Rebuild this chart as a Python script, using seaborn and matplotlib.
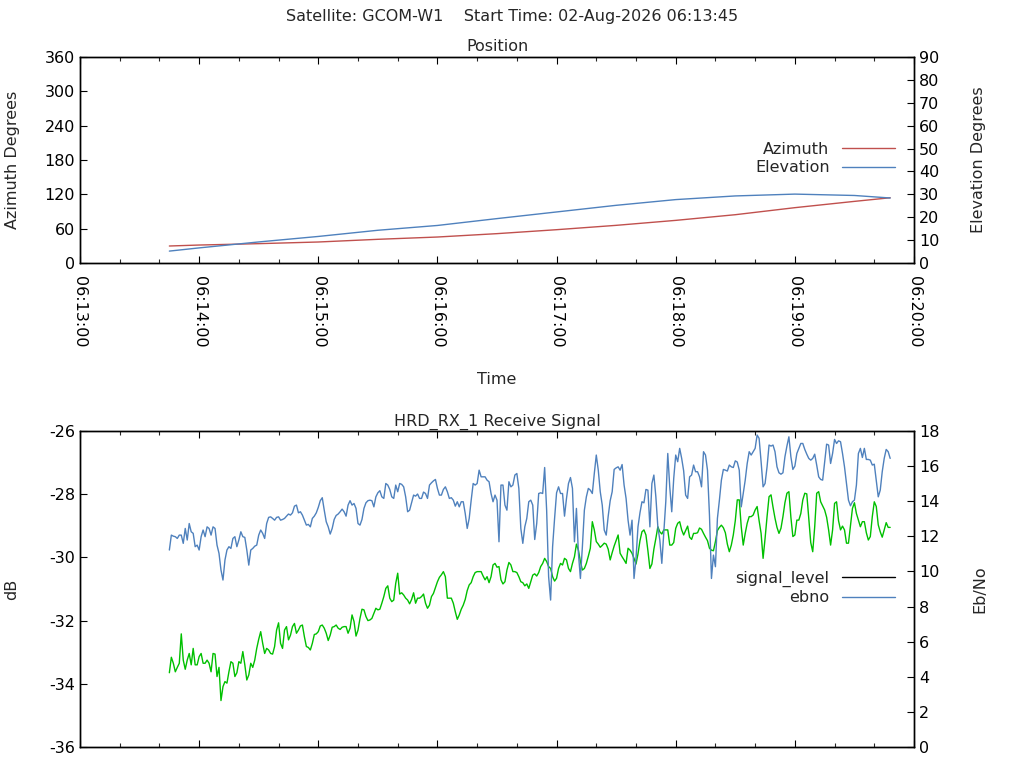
import numpy as np
import pandas as pd
import matplotlib
matplotlib.use("Agg")
import matplotlib.pyplot as plt
import seaborn as sns
from matplotlib.lines import Line2D
from matplotlib.ticker import MultipleLocator, FuncFormatter

# position samples, seconds after 06:13:00
pos_time = [45, 60, 90, 120, 150, 180, 210, 240, 270, 300, 330, 360, 390, 408]
azimuth = [29.7, 31.4, 33.8, 36.7, 41.4, 45.4, 51.3, 58.2, 65.8, 74.5, 84.4, 96.7, 107.7, 114.0]
elevation = [5.2, 6.6, 9.2, 11.6, 14.3, 16.4, 19.4, 22.3, 25.2, 27.7, 29.3, 30.1, 29.5, 28.4]

# receive signal, one sample per second starting 06:13:45
sig_start = 45
signal_level = [
    -33.65, -33.16, -33.35, -33.62, -33.48, -33.35, -32.42, -33.25, -33.54, -33.25,
    -33.04, -33.40, -32.88, -33.40, -33.40, -33.14, -33.04, -33.35, -33.35, -33.25,
    -33.35, -33.62, -33.04, -33.06, -33.77, -33.48, -34.53, -34.09, -33.93, -33.98,
    -33.62, -33.30, -33.35, -33.77, -33.65, -33.30, -33.35, -32.98, -33.40, -33.88,
    -33.72, -33.35, -33.48, -33.25, -32.88, -32.59, -32.35, -32.72, -33.04, -32.88,
    -32.93, -33.04, -33.06, -32.82, -32.30, -32.07, -32.72, -32.88, -32.30, -32.19,
    -32.61, -32.46, -32.19, -32.09, -32.40, -32.30, -32.17, -32.14, -32.51, -32.82,
    -32.85,
    -32.93, -32.72, -32.44, -32.42, -32.35, -32.17, -32.14, -32.24, -32.40, -32.63,
    -32.46, -32.21, -32.19, -32.14, -32.24, -32.28, -32.21, -32.19, -32.19, -32.40,
    -32.24, -31.82, -32.03, -32.49, -32.30, -31.93, -31.64, -31.66, -31.87, -32.00,
    -31.98, -31.93, -31.77, -31.61, -31.66, -31.64, -31.45, -31.24, -30.98, -30.90,
    -31.29, -31.40, -31.35, -30.82, -30.50, -31.16, -31.12, -31.19, -31.29, -31.35,
    -31.47, -31.33, -31.12, -31.45, -31.29, -31.29, -31.24, -31.16, -31.45, -31.61,
    -31.51, -31.24, -31.14, -30.95, -30.77, -30.63, -30.55, -30.45, -30.61, -31.29,
    -31.29, -31.29,
    -31.45, -31.72, -31.96, -31.82, -31.64, -31.51, -31.33, -31.05, -30.87, -30.80,
    -30.61, -30.48, -30.45, -30.45, -30.45, -30.59, -30.71, -30.61, -30.80, -30.61,
    -30.24, -30.19, -30.31, -30.29, -30.71, -30.84, -30.77, -30.40, -30.16, -30.24,
    -30.45, -30.45, -30.48, -30.61, -30.77, -30.80, -30.90, -30.84, -30.98, -30.77,
    -30.56, -30.52, -30.59, -30.48, -30.29, -30.19, -30.03, -30.13, -30.29, -30.35,
    -30.61, -30.75, -30.66, -30.35, -30.19, -30.24, -30.03, -30.08, -30.35, -30.45,
    -30.19, -29.98, -29.58, -29.77, -30.13, -30.40, -30.35, -30.19, -29.96, -29.71,
    -28.87, -29.13, -29.50,
    -29.58, -29.68, -29.62, -29.55, -29.58, -29.74, -30.08, -29.85, -29.64, -29.47,
    -29.29, -29.87, -29.98, -30.08, -30.19, -29.71, -29.77, -29.87, -30.03, -30.21,
    -29.89, -29.47, -29.19, -29.13, -29.29, -29.79, -30.35, -30.21, -29.74, -29.40,
    -29.03, -29.19, -29.26, -29.13, -29.13, -29.13, -29.61, -29.61, -29.53, -29.08,
    -28.92, -28.87, -29.13, -29.29, -29.15, -29.01, -29.36, -29.43, -29.24, -29.24,
    -29.22, -29.07, -29.11, -29.24, -29.36, -29.47, -29.71, -29.77, -29.79, -29.50,
    -29.15, -29.05, -28.98, -29.06, -29.22, -29.58, -29.82, -29.61, -29.29, -28.84,
    -28.18, -28.18,
    -29.03, -29.61, -29.24, -28.92, -28.71, -28.71, -28.66, -28.50, -28.39, -28.84,
    -29.24, -30.03, -29.40, -28.71, -28.08, -28.02, -28.41, -28.76, -29.05, -29.24,
    -29.08, -28.71, -28.27, -27.97, -27.92, -28.73, -29.34, -29.29, -28.82, -28.82,
    -28.61, -28.18, -27.97, -27.99, -28.76, -29.53, -29.82, -29.03, -27.97, -27.92,
    -28.24, -28.37, -28.50, -28.73, -29.13, -29.61, -29.13, -28.29, -28.24, -28.84,
    -29.13, -29.01, -29.13, -29.55, -29.55, -29.01, -28.45, -28.27, -28.61, -28.82,
    -29.03, -28.87, -28.87, -29.22, -29.45, -29.34, -28.71, -28.24, -28.39, -28.97,
    -29.19, -29.36, -29.13, -28.90, -29.05, -29.05,
]
ebno = [
    11.22, 12.07, 12.01, 11.98, 11.88, 12.07, 12.07, 11.60, 12.45, 11.79,
    12.73, 12.26, 12.17, 11.41, 11.50, 11.22, 11.98, 12.36, 11.98, 12.54,
    12.45, 12.07, 12.54, 12.45, 11.50, 11.03, 10.08, 9.51, 10.65, 11.22,
    11.41, 11.31, 11.88, 11.98, 11.41, 11.79, 12.26, 11.98, 11.94, 11.22,
    10.36, 11.22, 11.31, 11.44, 11.50, 12.07, 12.36, 12.17, 11.88, 12.73,
    13.08, 13.11, 13.02, 12.92, 13.08, 13.11, 12.92, 12.96, 13.02, 13.15,
    13.27, 13.21, 13.34, 13.72, 13.78, 13.34, 13.40, 13.21, 12.92, 12.64,
    12.68,
    12.54, 13.02, 13.15, 13.34, 13.65, 14.03, 14.20, 13.49, 12.83, 12.54,
    12.13, 12.45, 12.96, 13.19, 13.27, 13.40, 13.55, 13.40, 13.15, 13.78,
    14.03, 13.78, 13.87, 13.59, 12.73, 12.64, 12.96, 13.59, 13.91, 14.03,
    14.06, 14.03, 13.68, 14.25, 14.48, 14.60, 14.25, 14.16, 15.01, 14.92,
    14.67, 14.25, 14.16, 14.92, 14.54, 15.01, 14.96, 14.82, 14.25, 13.40,
    13.49, 13.91, 14.35, 14.29, 14.41, 14.16, 14.16, 14.52, 14.44, 14.16,
    14.92, 15.05, 15.16, 15.24, 14.73, 14.35, 14.35, 14.67, 14.82, 14.54,
    14.16, 14.20,
    14.06, 13.72, 13.97, 13.68, 13.97, 13.97, 13.30, 12.45, 13.02, 14.06,
    15.01, 14.92, 15.01, 15.77, 15.39, 15.39, 15.39, 15.20, 15.11, 14.44,
    13.97, 14.35, 14.06, 11.69, 14.92, 14.92, 13.78, 13.49, 15.11, 14.82,
    14.92, 15.49, 15.58, 14.73, 12.45, 11.60, 12.54, 13.02, 13.97, 14.06,
    13.78, 11.82, 12.73, 14.44, 14.48, 14.44, 15.92, 13.49, 9.70, 8.37,
    11.41, 13.02, 14.48, 14.82, 14.44, 14.44, 13.15, 14.16, 15.01, 15.35,
    14.73, 11.69, 13.59, 11.03, 9.60, 11.41, 13.49, 14.25, 14.73, 14.63,
    14.44, 15.58, 16.63,
    15.77, 14.54, 13.78, 12.36, 12.07, 13.15, 14.03, 14.54, 15.81, 15.90,
    15.96, 15.77, 16.09, 14.92, 14.16, 12.92, 12.07, 12.92, 9.60, 10.74,
    12.54, 13.34, 13.97, 13.91, 14.67, 14.63, 12.54, 15.01, 15.49, 14.25,
    12.54, 11.79, 10.46, 12.17, 13.97, 16.72, 14.82, 13.40, 15.30, 16.63,
    16.25, 17.01, 16.44, 15.73, 14.35, 14.16, 15.39, 15.49, 16.06, 15.68,
    15.68, 15.39, 14.82, 16.82, 16.63, 15.77, 13.21, 9.60, 10.93, 10.27,
    13.02, 14.06, 15.20, 15.81, 15.77, 15.72, 16.06, 15.96, 15.92, 16.30,
    16.23, 15.77,
    13.68, 14.44, 15.20, 16.15, 16.82, 16.63, 16.82, 17.01, 17.77, 17.58,
    16.25, 14.82, 15.01, 15.96, 17.20, 17.14, 17.20, 16.82, 15.96, 15.62,
    15.54, 15.62, 16.53, 17.14, 17.67, 16.53, 15.81, 16.00, 16.72, 17.01,
    17.29, 17.29, 16.95, 16.68, 16.44, 16.34, 16.44, 16.68, 16.06, 15.39,
    15.24, 15.20, 16.25, 17.25, 17.20, 16.15, 16.72, 17.52, 17.29, 17.44,
    17.39, 16.72, 15.96, 15.01, 14.06, 13.74, 13.97, 14.06, 14.92, 16.72,
    17.01, 16.49, 17.01, 16.38, 16.38, 16.34, 16.06, 16.11, 15.20, 14.25,
    14.63, 15.68, 16.44, 16.95, 16.82, 16.44,
]

x_labels = ["06:13:00", "06:14:00", "06:15:00", "06:16:00",
            "06:17:00", "06:18:00", "06:19:00", "06:20:00"]

red = "#c0504d"
blue = "#4f81bd"
green = "#00c000"
fs = 11.5

sns.set_style("white")
plt.rcParams["font.family"] = ["DejaVu Sans"]
plt.rcParams["axes.unicode_minus"] = False

pos = pd.DataFrame({"t": pos_time, "az": azimuth, "el": elevation})
sig = pd.DataFrame({"t": sig_start + np.arange(len(signal_level)),
                    "signal_level": signal_level})
eb = pd.DataFrame({"t": sig_start + np.arange(len(ebno)), "ebno": ebno})

fig = plt.figure(figsize=(10.24, 7.68), dpi=100)
ax1 = fig.add_axes([80 / 1024, 1 - 263 / 768, 834 / 1024, 206 / 768])
ax1b = ax1.twinx()
ax2 = fig.add_axes([80 / 1024, 1 - 747 / 768, 834 / 1024, 316 / 768])
ax2b = ax2.twinx()

sns.lineplot(data=pos, x="t", y="az", ax=ax1, color=red, lw=1)
sns.lineplot(data=pos, x="t", y="el", ax=ax1b, color=blue, lw=1)
sns.lineplot(data=sig, x="t", y="signal_level", ax=ax2, color=green, lw=1)
sns.lineplot(data=eb, x="t", y="ebno", ax=ax2b, color=blue, lw=1)

fmt = FuncFormatter(lambda v, p: x_labels[int(round(v / 60))] if 0 <= round(v / 60) < len(x_labels) else "")
for ax in (ax1, ax2):
    ax.set_xlim(0, 420)
    ax.xaxis.set_major_locator(MultipleLocator(60))
    ax.xaxis.set_minor_locator(MultipleLocator(20))
    ax.xaxis.set_major_formatter(fmt)

ax1.set_ylim(0, 360)
ax1.set_yticks(range(0, 361, 60))
ax1b.set_ylim(0, 90)
ax1b.set_yticks(range(0, 91, 10))
ax2.set_ylim(-36, -26)
ax2.set_yticks(range(-36, -25, 2))
ax2b.set_ylim(0, 18)
ax2b.set_yticks(range(0, 19, 2))

for ax in (ax1, ax1b, ax2, ax2b):
    for s in ax.spines.values():
        s.set_color("black")
        s.set_linewidth(1)
    ax.tick_params(which="major", direction="in", length=5, width=0.8,
                   labelsize=fs, colors="black")
    ax.tick_params(which="minor", direction="in", length=3, width=0.8)

ax1.tick_params(axis="x", which="both", top=True, bottom=True)
ax2.tick_params(axis="x", which="both", top=True, bottom=True, labelbottom=False)
ax1.tick_params(axis="y", left=True, right=False)
ax2.tick_params(axis="y", left=True, right=False)
ax1b.tick_params(axis="y", right=True, left=False)
ax2b.tick_params(axis="y", right=True, left=False)
plt.setp(ax1.get_xticklabels(), rotation=270, va="top", ha="center")
ax1.tick_params(axis="x", pad=9)

ax1.set_xlabel("Time", fontsize=fs)
ax1.xaxis.set_label_coords(0.5, -0.53)
ax2.set_xlabel("")
ax1.set_ylabel("Azimuth Degrees", fontsize=fs, va="center")
ax1.yaxis.set_label_coords(-0.0815, 0.5)
ax1b.set_ylabel("Elevation Degrees", fontsize=fs, va="center")
ax1b.yaxis.set_label_coords(1.077, 0.5)
ax2.set_ylabel("dB", fontsize=fs, va="center")
ax2.yaxis.set_label_coords(-0.0815, 0.5)
ax2b.set_ylabel("Eb/No", fontsize=fs, va="center")
ax2b.yaxis.set_label_coords(1.079, 0.5)

ax1.set_title("Position", fontsize=fs, pad=4)
ax2.set_title("HRD_RX_1 Receive Signal", fontsize=fs, pad=4)
fig.text(0.5, 1 - 17 / 768, "Satellite: GCOM-W1    Start Time: 02-Aug-2026 06:13:45",
         ha="center", va="center", fontsize=fs)

leg_kw = dict(frameon=False, markerfirst=False, fontsize=fs, handlelength=3.3,
              handletextpad=0.8, labelspacing=0.2, borderpad=0, borderaxespad=0,
              loc="upper right")
ax1b.legend([Line2D([], [], color=red, lw=1), Line2D([], [], color=blue, lw=1)],
            ["Azimuth", "Elevation"], bbox_to_anchor=(895 / 1024, 1 - 142 / 768),
            bbox_transform=fig.transFigure, **leg_kw)
ax2b.legend([Line2D([], [], color="black", lw=1), Line2D([], [], color=blue, lw=1)],
            ["signal_level", "ebno"], bbox_to_anchor=(895 / 1024, 1 - 571 / 768),
            bbox_transform=fig.transFigure, **leg_kw)

fig.savefig("out.png", dpi=100)
